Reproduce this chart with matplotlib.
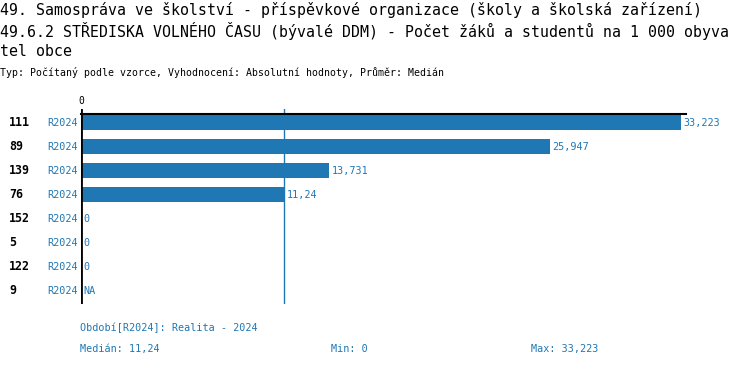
import numpy as np
import matplotlib
matplotlib.use('Agg')
import matplotlib.pyplot as plt

# data
ids = ['111', '89', '139', '76', '152', '5', '122', '9']
periods = ['R2024'] * 8
values = [33.223, 25.947, 13.731, 11.24, 0, 0, 0, np.nan]

title_lines = ['49. Samospráva ve školství - příspěvkové organizace (školy a školská zařízení)',
               '49.6.2 STŘEDISKA VOLNÉHO ČASU (bývalé DDM) - Počet žáků a studentů na 1 000 obyva',
               'tel obce']
subtitle = 'Typ: Počítaný podle vzorce, Vyhodnocení: Absolutní hodnoty, Průměr: Medián'
period_note = 'Období[R2024]: Realita - 2024'

blue = '#1f77b4'
W, H = 750, 366
plt.rcParams['font.family'] = ['DejaVu Sans Mono']


def fmt(v):
    if np.isnan(v):
        return 'NA'
    return ('%g' % v).replace('.', ',')


def px(x, y):
    return x / W, 1 - y / H


fig = plt.figure(figsize=(7.5, 3.66), dpi=100)

# axes placed in pixel coords: x from 81 to 686, y from 109 to 304
ax = fig.add_axes([81 / W, 1 - 304 / H, (686 - 81) / W, (304 - 109) / H])
vals = np.array(values)
xmax = np.nanmax(vals) * 605 / 600
ax.set_xlim(0, xmax)
ax.set_ylim(7.55, -0.57)
ax.axis('off')

pos = np.arange(len(ids))
ax.barh(pos, np.nan_to_num(vals), height=0.62, color=blue)

med = np.nanmedian(vals)
ax.axvline(med, color=blue, lw=1)
ax.axvline(0, color='black', lw=2)
ax.plot([0, xmax], [-0.36, -0.36], color='black', lw=1.5, clip_on=False)

for i, v in enumerate(vals):
    xv = 0 if np.isnan(v) else v
    ax.text(xv + 0.15, i, fmt(v), color=blue, fontsize=7.3, va='center', ha='left')

# left labels
for i in range(len(ids)):
    yy = 122.7 + 24 * i
    fig.text(*px(9, yy), ids[i], fontsize=8.4, fontweight='bold', color='black', va='center', ha='left')
    fig.text(*px(78, yy), periods[i], fontsize=7.3, color=blue, va='center', ha='right')

fig.text(*px(81, 101), '0', fontsize=7, color='black', va='center', ha='center')

# titles
for k, line in enumerate(title_lines):
    fig.text(*px(0, 10 + 21 * k), line, fontsize=10.7, color='black', va='center', ha='left')
fig.text(*px(0, 73), subtitle, fontsize=7.1, color='black', va='center', ha='left')

# footer
fig.text(*px(80, 328), period_note, fontsize=7.3, color=blue, va='center', ha='left')
fig.text(*px(80, 349), 'Medián: ' + fmt(med), fontsize=7.3, color=blue, va='center', ha='left')
fig.text(*px(331, 349), 'Min: ' + fmt(np.nanmin(vals)), fontsize=7.3, color=blue, va='center', ha='left')
fig.text(*px(531, 349), 'Max: ' + fmt(np.nanmax(vals)), fontsize=7.3, color=blue, va='center', ha='left')

fig.savefig('out.png', dpi=100, facecolor='white')
